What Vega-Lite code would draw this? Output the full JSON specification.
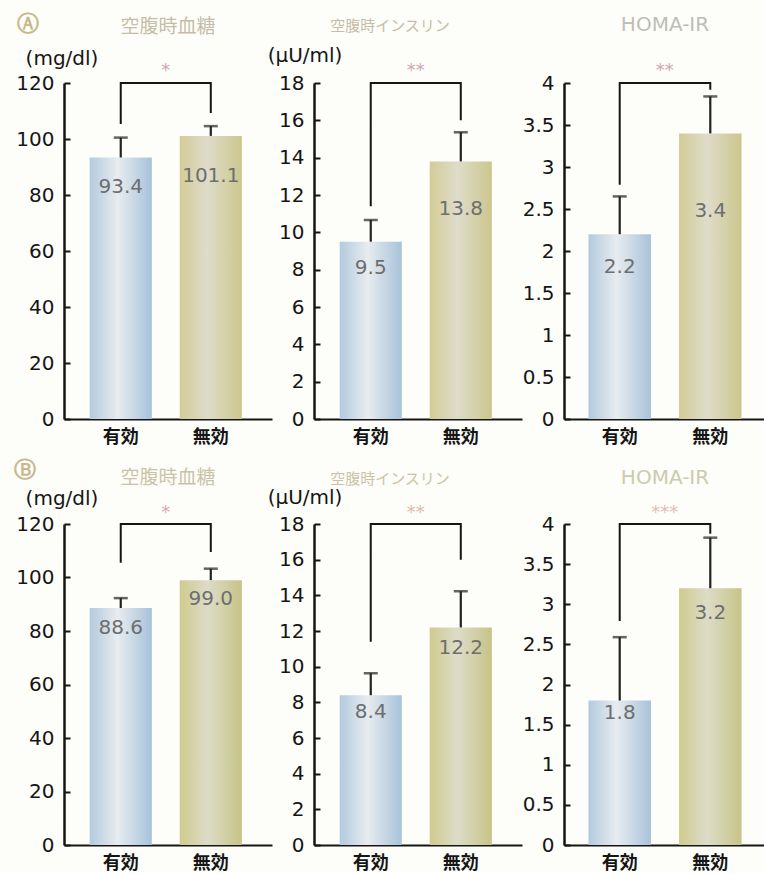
{
  "$schema": "https://vega.github.io/schema/vega-lite/v6.json",
  "background": "#fdfdfa",
  "padding": {"left": 14, "top": 13, "right": 0, "bottom": 0},
  "datasets": {
    "bars": [
      {"panel": "A1", "group": "有効", "value": 93.4, "upper": 100.5},
      {"panel": "A1", "group": "無効", "value": 101.1, "upper": 104.6},
      {"panel": "A2", "group": "有効", "value": 9.5, "upper": 10.66},
      {"panel": "A2", "group": "無効", "value": 13.8, "upper": 15.36},
      {"panel": "A3", "group": "有効", "value": 2.2, "upper": 2.65},
      {"panel": "A3", "group": "無効", "value": 3.4, "upper": 3.84},
      {"panel": "B1", "group": "有効", "value": 88.6, "upper": 92.3},
      {"panel": "B1", "group": "無効", "value": 99.0, "upper": 103.3},
      {"panel": "B2", "group": "有効", "value": 8.4, "upper": 9.63},
      {"panel": "B2", "group": "無効", "value": 12.2, "upper": 14.23},
      {"panel": "B3", "group": "有効", "value": 1.8, "upper": 2.59},
      {"panel": "B3", "group": "無効", "value": 3.2, "upper": 3.83}
    ],
    "brackets": [
      {"panel": "A1", "seq": 1, "group": "有効", "v": 105.4},
      {"panel": "A1", "seq": 2, "group": "有効", "v": 120},
      {"panel": "A1", "seq": 3, "group": "無効", "v": 120},
      {"panel": "A1", "seq": 4, "group": "無効", "v": 109.3},
      {"panel": "A2", "seq": 1, "group": "有効", "v": 11.4},
      {"panel": "A2", "seq": 2, "group": "有効", "v": 18},
      {"panel": "A2", "seq": 3, "group": "無効", "v": 18},
      {"panel": "A2", "seq": 4, "group": "無効", "v": 16.0},
      {"panel": "A3", "seq": 1, "group": "有効", "v": 2.79},
      {"panel": "A3", "seq": 2, "group": "有効", "v": 4},
      {"panel": "A3", "seq": 3, "group": "無効", "v": 4},
      {"panel": "A3", "seq": 4, "group": "無効", "v": 3.92},
      {"panel": "B1", "seq": 1, "group": "有効", "v": 105.5},
      {"panel": "B1", "seq": 2, "group": "有効", "v": 120},
      {"panel": "B1", "seq": 3, "group": "無効", "v": 120},
      {"panel": "B1", "seq": 4, "group": "無効", "v": 109.5},
      {"panel": "B2", "seq": 1, "group": "有効", "v": 11.4},
      {"panel": "B2", "seq": 2, "group": "有効", "v": 18},
      {"panel": "B2", "seq": 3, "group": "無効", "v": 18},
      {"panel": "B2", "seq": 4, "group": "無効", "v": 16.0},
      {"panel": "B3", "seq": 1, "group": "有効", "v": 2.79},
      {"panel": "B3", "seq": 2, "group": "有効", "v": 4},
      {"panel": "B3", "seq": 3, "group": "無効", "v": 4},
      {"panel": "B3", "seq": 4, "group": "無効", "v": 3.88}
    ],
    "stars": [
      {"panel": "A1", "group": "有効", "top": 120, "stars": "*"},
      {"panel": "A2", "group": "有効", "top": 18, "stars": "**"},
      {"panel": "A3", "group": "有効", "top": 4, "stars": "**"},
      {"panel": "B1", "group": "有効", "top": 120, "stars": "*"},
      {"panel": "B2", "group": "有効", "top": 18, "stars": "**"},
      {"panel": "B3", "group": "有効", "top": 4, "stars": "***"}
    ]
  },
  "spacing": 13,
  "vconcat": [
    {
      "title": {"text": "Ⓐ", "anchor": "start", "frame": "group", "dx": -47, "dy": 21, "offset": 0, "font": "DejaVu Sans", "fontSize": 22, "fontWeight": "bold", "color": "#c8b88e"},
      "bounds": "flush",
      "spacing": 42,
      "hconcat": [
        {
          "width": 208, "height": 336,
          "title": {"text": "空腹時血糖", "offset": 11},
          "data": {"name": "bars"},
          "transform": [{"filter": "datum.panel === 'A1'"}],
          "encoding": {
            "x": {"field": "group", "type": "nominal", "sort": ["有効", "無効"], "scale": {"paddingInner": 0.31, "paddingOuter": 0.31, "align": 0.46}, "axis": {"title": null}}
          },
          "layer": [
            {"mark": {"type": "bar"}, "encoding": {
              "y": {"field": "value", "type": "quantitative", "scale": {"domain": [0, 120], "nice": false}, "axis": {"values": [0, 20, 40, 60, 80, 100, 120], "format": "~r", "labelOverlap": false, "title": "(mg/dl)", "titleX": -2.5, "titleY": -25}},
              "fill": {"condition": {"test": "datum.group === '有効'", "value": {"gradient": "linear", "x1": 0, "x2": 1, "y1": 0, "y2": 0, "stops": [{"offset": 0, "color": "#b3cade"}, {"offset": 0.45, "color": "#e7ecef"}, {"offset": 1, "color": "#a8c2da"}]}},
                       "value": {"gradient": "linear", "x1": 0, "x2": 1, "y1": 0, "y2": 0, "stops": [{"offset": 0, "color": "#d3cc96"}, {"offset": 0.45, "color": "#dedcca"}, {"offset": 1, "color": "#ccc68c"}]}}
            }},
            {"mark": {"type": "rule", "color": "#222", "strokeWidth": 2.2}, "encoding": {"y": {"field": "value", "type": "quantitative"}, "y2": {"field": "upper"}}},
            {"mark": {"type": "tick", "color": "#222", "size": 14, "thickness": 2.5}, "encoding": {"y": {"field": "upper", "type": "quantitative"}}},
            {"transform": [{"filter": "datum.group === '有効'"}], "mark": {"type": "text", "dy": 30, "fontSize": 20, "color": "#6e6e6e"}, "encoding": {"y": {"field": "value", "type": "quantitative"}, "text": {"field": "value", "format": ".1f"}}},
            {"transform": [{"filter": "datum.group === '無効'"}], "mark": {"type": "text", "dy": 40, "fontSize": 20, "color": "#6e6e6e"}, "encoding": {"y": {"field": "value", "type": "quantitative"}, "text": {"field": "value", "format": ".1f"}}},
            {"data": {"name": "brackets"}, "transform": [{"filter": "datum.panel === 'A1'"}], "mark": {"type": "line", "color": "#151515", "strokeWidth": 2}, "encoding": {"y": {"field": "v", "type": "quantitative"}, "order": {"field": "seq"}}},
            {"data": {"name": "stars"}, "transform": [{"filter": "datum.panel === 'A1'"}], "mark": {"type": "text", "dx": 45, "dy": -7, "baseline": "alphabetic", "fontSize": 18, "color": "#d3a5b2"}, "encoding": {"y": {"field": "top", "type": "quantitative"}, "text": {"field": "stars"}}}
          ]
        },
        {
          "width": 208, "height": 336,
          "title": {"text": "空腹時インスリン", "offset": 11, "dx": -28, "fontSize": 15},
          "data": {"name": "bars"},
          "transform": [{"filter": "datum.panel === 'A2'"}],
          "encoding": {
            "x": {"field": "group", "type": "nominal", "sort": ["有効", "無効"], "scale": {"paddingInner": 0.31, "paddingOuter": 0.31, "align": 0.46}, "axis": {"title": null}}
          },
          "layer": [
            {"mark": {"type": "bar"}, "encoding": {
              "y": {"field": "value", "type": "quantitative", "scale": {"domain": [0, 18], "nice": false}, "axis": {"tickCount": 9, "format": "~r", "labelOverlap": false, "title": "(μU/ml)", "titleX": -9.5, "titleY": -28}},
              "fill": {"condition": {"test": "datum.group === '有効'", "value": {"gradient": "linear", "x1": 0, "x2": 1, "y1": 0, "y2": 0, "stops": [{"offset": 0, "color": "#b3cade"}, {"offset": 0.45, "color": "#e7ecef"}, {"offset": 1, "color": "#a8c2da"}]}},
                       "value": {"gradient": "linear", "x1": 0, "x2": 1, "y1": 0, "y2": 0, "stops": [{"offset": 0, "color": "#d3cc96"}, {"offset": 0.45, "color": "#dedcca"}, {"offset": 1, "color": "#ccc68c"}]}}
            }},
            {"mark": {"type": "rule", "color": "#222", "strokeWidth": 2.2}, "encoding": {"y": {"field": "value", "type": "quantitative"}, "y2": {"field": "upper"}}},
            {"mark": {"type": "tick", "color": "#222", "size": 14, "thickness": 2.5}, "encoding": {"y": {"field": "upper", "type": "quantitative"}}},
            {"transform": [{"filter": "datum.group === '有効'"}], "mark": {"type": "text", "dy": 26, "fontSize": 20, "color": "#6e6e6e"}, "encoding": {"y": {"field": "value", "type": "quantitative"}, "text": {"field": "value", "format": ".1f"}}},
            {"transform": [{"filter": "datum.group === '無効'"}], "mark": {"type": "text", "dy": 48, "fontSize": 20, "color": "#6e6e6e"}, "encoding": {"y": {"field": "value", "type": "quantitative"}, "text": {"field": "value", "format": ".1f"}}},
            {"data": {"name": "brackets"}, "transform": [{"filter": "datum.panel === 'A2'"}], "mark": {"type": "line", "color": "#151515", "strokeWidth": 2}, "encoding": {"y": {"field": "v", "type": "quantitative"}, "order": {"field": "seq"}}},
            {"data": {"name": "stars"}, "transform": [{"filter": "datum.panel === 'A2'"}], "mark": {"type": "text", "dx": 45, "dy": -7, "baseline": "alphabetic", "fontSize": 18, "color": "#d3a5b2"}, "encoding": {"y": {"field": "top", "type": "quantitative"}, "text": {"field": "stars"}}}
          ]
        },
        {
          "width": 202, "height": 336,
          "title": {"text": "HOMA-IR", "offset": 27, "font": "DejaVu Sans", "fontSize": 20, "color": "#bdbdb8"},
          "data": {"name": "bars"},
          "transform": [{"filter": "datum.panel === 'A3'"}],
          "encoding": {
            "x": {"field": "group", "type": "nominal", "sort": ["有効", "無効"], "scale": {"paddingInner": 0.31, "paddingOuter": 0.27, "align": 0.5}, "axis": {"title": null}}
          },
          "layer": [
            {"mark": {"type": "bar"}, "encoding": {
              "y": {"field": "value", "type": "quantitative", "scale": {"domain": [0, 4], "nice": false}, "axis": {"values": [0, 0.5, 1, 1.5, 2, 2.5, 3, 3.5, 4], "format": "~r", "labelOverlap": false, "title": null}},
              "fill": {"condition": {"test": "datum.group === '有効'", "value": {"gradient": "linear", "x1": 0, "x2": 1, "y1": 0, "y2": 0, "stops": [{"offset": 0, "color": "#b3cade"}, {"offset": 0.45, "color": "#e7ecef"}, {"offset": 1, "color": "#a8c2da"}]}},
                       "value": {"gradient": "linear", "x1": 0, "x2": 1, "y1": 0, "y2": 0, "stops": [{"offset": 0, "color": "#d3cc96"}, {"offset": 0.45, "color": "#dedcca"}, {"offset": 1, "color": "#ccc68c"}]}}
            }},
            {"mark": {"type": "rule", "color": "#222", "strokeWidth": 2.2}, "encoding": {"y": {"field": "value", "type": "quantitative"}, "y2": {"field": "upper"}}},
            {"mark": {"type": "tick", "color": "#222", "size": 14, "thickness": 2.5}, "encoding": {"y": {"field": "upper", "type": "quantitative"}}},
            {"transform": [{"filter": "datum.group === '有効'"}], "mark": {"type": "text", "dy": 33, "fontSize": 20, "color": "#6e6e6e"}, "encoding": {"y": {"field": "value", "type": "quantitative"}, "text": {"field": "value", "format": ".1f"}}},
            {"transform": [{"filter": "datum.group === '無効'"}], "mark": {"type": "text", "dy": 78, "fontSize": 20, "color": "#6e6e6e"}, "encoding": {"y": {"field": "value", "type": "quantitative"}, "text": {"field": "value", "format": ".1f"}}},
            {"data": {"name": "brackets"}, "transform": [{"filter": "datum.panel === 'A3'"}], "mark": {"type": "line", "color": "#151515", "strokeWidth": 2}, "encoding": {"y": {"field": "v", "type": "quantitative"}, "order": {"field": "seq"}}},
            {"data": {"name": "stars"}, "transform": [{"filter": "datum.panel === 'A3'"}], "mark": {"type": "text", "dx": 45, "dy": -7, "baseline": "alphabetic", "fontSize": 18, "color": "#d3a5b2"}, "encoding": {"y": {"field": "top", "type": "quantitative"}, "text": {"field": "stars"}}}
          ]
        }
      ]
    },
    {
      "title": {"text": "Ⓑ", "anchor": "start", "frame": "group", "dx": -50, "dy": 14, "offset": 0, "font": "DejaVu Sans", "fontSize": 22, "fontWeight": "bold", "color": "#c8b88e"},
      "bounds": "flush",
      "spacing": 42,
      "hconcat": [
        {
          "width": 208, "height": 321,
          "title": {"text": "空腹時血糖", "offset": 0, "color": "#c9c4a6"},
          "data": {"name": "bars"},
          "transform": [{"filter": "datum.panel === 'B1'"}],
          "encoding": {
            "x": {"field": "group", "type": "nominal", "sort": ["有効", "無効"], "scale": {"paddingInner": 0.31, "paddingOuter": 0.31, "align": 0.46}, "axis": {"title": null}}
          },
          "layer": [
            {"mark": {"type": "bar"}, "encoding": {
              "y": {"field": "value", "type": "quantitative", "scale": {"domain": [0, 120], "nice": false}, "axis": {"values": [0, 20, 40, 60, 80, 100, 120], "format": "~r", "labelOverlap": false, "title": "(mg/dl)", "titleX": -2.5, "titleY": -26}},
              "fill": {"condition": {"test": "datum.group === '有効'", "value": {"gradient": "linear", "x1": 0, "x2": 1, "y1": 0, "y2": 0, "stops": [{"offset": 0, "color": "#b3cade"}, {"offset": 0.45, "color": "#e7ecef"}, {"offset": 1, "color": "#a8c2da"}]}},
                       "value": {"gradient": "linear", "x1": 0, "x2": 1, "y1": 0, "y2": 0, "stops": [{"offset": 0, "color": "#cfcb8e"}, {"offset": 0.45, "color": "#dcdcc8"}, {"offset": 1, "color": "#c6c486"}]}}
            }},
            {"mark": {"type": "rule", "color": "#222", "strokeWidth": 2.2}, "encoding": {"y": {"field": "value", "type": "quantitative"}, "y2": {"field": "upper"}}},
            {"mark": {"type": "tick", "color": "#222", "size": 14, "thickness": 2.5}, "encoding": {"y": {"field": "upper", "type": "quantitative"}}},
            {"transform": [{"filter": "datum.group === '有効'"}], "mark": {"type": "text", "dy": 20, "fontSize": 20, "color": "#6e6e6e"}, "encoding": {"y": {"field": "value", "type": "quantitative"}, "text": {"field": "value", "format": ".1f"}}},
            {"transform": [{"filter": "datum.group === '無効'"}], "mark": {"type": "text", "dy": 19, "fontSize": 20, "color": "#6e6e6e"}, "encoding": {"y": {"field": "value", "type": "quantitative"}, "text": {"field": "value", "format": ".1f"}}},
            {"data": {"name": "brackets"}, "transform": [{"filter": "datum.panel === 'B1'"}], "mark": {"type": "line", "color": "#151515", "strokeWidth": 2}, "encoding": {"y": {"field": "v", "type": "quantitative"}, "order": {"field": "seq"}}},
            {"data": {"name": "stars"}, "transform": [{"filter": "datum.panel === 'B1'"}], "mark": {"type": "text", "dx": 45, "dy": -6, "baseline": "alphabetic", "fontSize": 18, "color": "#d9a9b4"}, "encoding": {"y": {"field": "top", "type": "quantitative"}, "text": {"field": "stars"}}}
          ]
        },
        {
          "width": 208, "height": 321,
          "title": {"text": "空腹時インスリン", "offset": 0, "dx": -28, "fontSize": 15, "color": "#c9c4a6"},
          "data": {"name": "bars"},
          "transform": [{"filter": "datum.panel === 'B2'"}],
          "encoding": {
            "x": {"field": "group", "type": "nominal", "sort": ["有効", "無効"], "scale": {"paddingInner": 0.31, "paddingOuter": 0.31, "align": 0.46}, "axis": {"title": null}}
          },
          "layer": [
            {"mark": {"type": "bar"}, "encoding": {
              "y": {"field": "value", "type": "quantitative", "scale": {"domain": [0, 18], "nice": false}, "axis": {"tickCount": 9, "format": "~r", "labelOverlap": false, "title": "(μU/ml)", "titleX": -9.5, "titleY": -27}},
              "fill": {"condition": {"test": "datum.group === '有効'", "value": {"gradient": "linear", "x1": 0, "x2": 1, "y1": 0, "y2": 0, "stops": [{"offset": 0, "color": "#b3cade"}, {"offset": 0.45, "color": "#e7ecef"}, {"offset": 1, "color": "#a8c2da"}]}},
                       "value": {"gradient": "linear", "x1": 0, "x2": 1, "y1": 0, "y2": 0, "stops": [{"offset": 0, "color": "#cfcb8e"}, {"offset": 0.45, "color": "#dcdcc8"}, {"offset": 1, "color": "#c6c486"}]}}
            }},
            {"mark": {"type": "rule", "color": "#222", "strokeWidth": 2.2}, "encoding": {"y": {"field": "value", "type": "quantitative"}, "y2": {"field": "upper"}}},
            {"mark": {"type": "tick", "color": "#222", "size": 14, "thickness": 2.5}, "encoding": {"y": {"field": "upper", "type": "quantitative"}}},
            {"transform": [{"filter": "datum.group === '有効'"}], "mark": {"type": "text", "dy": 17, "fontSize": 20, "color": "#6e6e6e"}, "encoding": {"y": {"field": "value", "type": "quantitative"}, "text": {"field": "value", "format": ".1f"}}},
            {"transform": [{"filter": "datum.group === '無効'"}], "mark": {"type": "text", "dy": 21, "fontSize": 20, "color": "#6e6e6e"}, "encoding": {"y": {"field": "value", "type": "quantitative"}, "text": {"field": "value", "format": ".1f"}}},
            {"data": {"name": "brackets"}, "transform": [{"filter": "datum.panel === 'B2'"}], "mark": {"type": "line", "color": "#151515", "strokeWidth": 2}, "encoding": {"y": {"field": "v", "type": "quantitative"}, "order": {"field": "seq"}}},
            {"data": {"name": "stars"}, "transform": [{"filter": "datum.panel === 'B2'"}], "mark": {"type": "text", "dx": 45, "dy": -6, "baseline": "alphabetic", "fontSize": 18, "color": "#e2b9a6"}, "encoding": {"y": {"field": "top", "type": "quantitative"}, "text": {"field": "stars"}}}
          ]
        },
        {
          "width": 202, "height": 321,
          "title": {"text": "HOMA-IR", "offset": 16, "font": "DejaVu Sans", "fontSize": 20, "color": "#cbcbae"},
          "data": {"name": "bars"},
          "transform": [{"filter": "datum.panel === 'B3'"}],
          "encoding": {
            "x": {"field": "group", "type": "nominal", "sort": ["有効", "無効"], "scale": {"paddingInner": 0.31, "paddingOuter": 0.27, "align": 0.5}, "axis": {"title": null}}
          },
          "layer": [
            {"mark": {"type": "bar"}, "encoding": {
              "y": {"field": "value", "type": "quantitative", "scale": {"domain": [0, 4], "nice": false}, "axis": {"values": [0, 0.5, 1, 1.5, 2, 2.5, 3, 3.5, 4], "format": "~r", "labelOverlap": false, "title": null}},
              "fill": {"condition": {"test": "datum.group === '有効'", "value": {"gradient": "linear", "x1": 0, "x2": 1, "y1": 0, "y2": 0, "stops": [{"offset": 0, "color": "#b3cade"}, {"offset": 0.45, "color": "#e7ecef"}, {"offset": 1, "color": "#a8c2da"}]}},
                       "value": {"gradient": "linear", "x1": 0, "x2": 1, "y1": 0, "y2": 0, "stops": [{"offset": 0, "color": "#cfcb8e"}, {"offset": 0.45, "color": "#dcdcc8"}, {"offset": 1, "color": "#c6c486"}]}}
            }},
            {"mark": {"type": "rule", "color": "#222", "strokeWidth": 2.2}, "encoding": {"y": {"field": "value", "type": "quantitative"}, "y2": {"field": "upper"}}},
            {"mark": {"type": "tick", "color": "#222", "size": 14, "thickness": 2.5}, "encoding": {"y": {"field": "upper", "type": "quantitative"}}},
            {"transform": [{"filter": "datum.group === '有効'"}], "mark": {"type": "text", "dy": 12, "fontSize": 20, "color": "#6e6e6e"}, "encoding": {"y": {"field": "value", "type": "quantitative"}, "text": {"field": "value", "format": ".1f"}}},
            {"transform": [{"filter": "datum.group === '無効'"}], "mark": {"type": "text", "dy": 25, "fontSize": 20, "color": "#6e6e6e"}, "encoding": {"y": {"field": "value", "type": "quantitative"}, "text": {"field": "value", "format": ".1f"}}},
            {"data": {"name": "brackets"}, "transform": [{"filter": "datum.panel === 'B3'"}], "mark": {"type": "line", "color": "#151515", "strokeWidth": 2}, "encoding": {"y": {"field": "v", "type": "quantitative"}, "order": {"field": "seq"}}},
            {"data": {"name": "stars"}, "transform": [{"filter": "datum.panel === 'B3'"}], "mark": {"type": "text", "dx": 45, "dy": -6, "baseline": "alphabetic", "fontSize": 18, "color": "#e3bdb6"}, "encoding": {"y": {"field": "top", "type": "quantitative"}, "text": {"field": "stars"}}}
          ]
        }
      ]
    }
  ],
  "config": {
    "view": {"stroke": null},
    "axisY": {"domainColor": "#151515", "domainWidth": 2.5, "tickColor": "#151515", "tickWidth": 2, "tickSize": -6, "labelPadding": 16, "labelFont": "DejaVu Sans", "labelFontSize": 20, "labelColor": "#151515", "labelFlush": false, "labelOverlap": false, "grid": false, "titleAngle": 0, "titleAlign": "center", "titleBaseline": "middle", "titleFont": "DejaVu Sans", "titleFontSize": 20, "titleFontWeight": "normal", "titleColor": "#151515"},
    "axisX": {"domainColor": "#151515", "domainWidth": 2, "ticks": false, "labelFont": "Noto Sans CJK JP", "labelFontSize": 18, "labelFontWeight": "bold", "labelColor": "#151515", "labelPadding": 9, "labelAngle": 0, "grid": false},
    "title": {"font": "Noto Sans CJK JP", "fontSize": 19, "fontWeight": "normal", "color": "#c5bda6", "anchor": "middle", "frame": "group", "baseline": "bottom"},
    "text": {"font": "DejaVu Sans"}
  }
}
